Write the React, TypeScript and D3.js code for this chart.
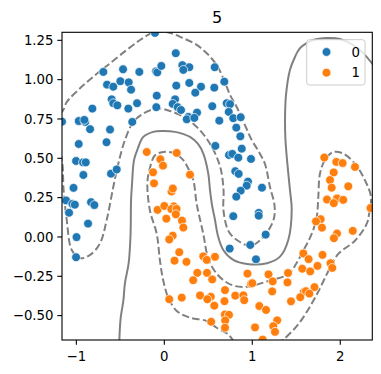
import React from 'react';
import * as d3 from 'd3';

type Pt = [number, number];

const chartTitle = '5';
const classLabels = ['0', '1'];
const classColors = ['#1f77b4', '#ff7f0e'];
const xTicks = [-1, 0, 1, 2];
const yTicks = [-0.5, -0.25, 0, 0.25, 0.5, 0.75, 1.0, 1.25];

// class 0 (upper moon)
const class0: Pt[] = [
  [-0.106, 1.297], [0.130, 1.168], [-0.693, 1.049], [-0.469, 1.066], [-0.284, 1.049], [-0.094, 1.053], [-0.080, 1.046],
  [-0.034, 1.087], [0.205, 1.092], [0.284, 1.079], [0.216, 1.062], [0.573, 1.079],
  [-0.651, 0.968], [-0.580, 0.955], [-0.500, 0.990], [-0.405, 0.983], [-0.378, 0.936], [0.136, 0.962], [0.284, 0.979],
  [0.417, 0.955], [0.352, 0.917], [0.568, 0.949], [-0.086, 0.898],
  [-0.598, 0.875], [-0.580, 0.850], [-0.534, 0.837], [-0.310, 0.850], [-0.409, 0.816], [-0.818, 0.816], [0.122, 0.875],
  [0.095, 0.846], [0.152, 0.825], [0.190, 0.807], [-0.091, 0.825], [0.372, 0.791], [0.545, 0.831],
  [0.682, 0.987], [0.709, 0.850], [0.747, 0.844], [0.732, 0.795], [0.784, 0.755], [0.868, 0.761], [0.625, 0.739],
  [0.818, 0.695], [0.864, 0.640], [0.580, 0.579], [0.880, 0.561], [0.735, 0.521], [0.773, 0.528], [0.841, 0.504], [0.985, 0.496],
  [0.807, 0.418], [0.845, 0.401], [0.951, 0.352], [0.936, 0.326], [0.868, 0.294], [1.110, 0.313], [0.818, 0.256],
  [0.784, 0.132], [1.073, 0.153], [1.073, 0.135], [1.152, 0.015], [0.977, -0.051], [0.743, -0.074], [1.042, -0.142],
  [-1.163, 0.733], [-0.973, 0.737], [-0.898, 0.731], [-0.909, 0.744], [-0.844, 0.685], [-0.657, 0.602], [-0.617, 0.683],
  [-0.973, 0.591], [-0.364, 0.731],
  [-1.003, 0.483], [-0.924, 0.474], [-0.893, 0.474], [-0.920, 0.394], [-1.032, 0.312], [-0.606, 0.402], [-0.541, 0.429],
  [0.273, 0.763], [0.255, 0.748], [0.341, 0.757],
  [-1.117, 0.232], [-1.045, 0.210], [-1.017, 0.205], [-0.833, 0.221], [-0.795, 0.203], [-1.083, 0.154], [-0.867, 0.085],
  [-0.998, -0.001], [-1.003, -0.129],
];

// class 1 (lower moon)
const class1: Pt[] = [
  [-0.200, 0.540], [0.141, 0.534], [-0.045, 0.494], [-0.015, 0.453], [-0.128, 0.411], [0.292, 0.396], [-0.117, 0.341],
  [1.818, 0.505], [1.955, 0.477], [2.027, 0.470], [2.167, 0.445], [1.925, 0.410], [1.883, 0.362], [2.091, 0.322],
  [1.902, 0.313], [1.849, 0.238], [1.963, 0.245], [2.034, 0.236], [1.926, 0.215], [2.343, 0.184], [1.777, 0.113],
  [1.724, 0.099], [1.792, 0.059], [2.142, 0.039], [1.963, 0.022], [1.928, -0.008],
  [0.576, -0.126], [1.580, -0.105], [1.640, -0.141], [1.798, -0.114], [1.741, -0.184], [1.889, -0.167], [1.909, -0.197],
  [1.568, -0.202], [1.658, -0.219], [1.406, -0.229], [1.400, -0.289], [1.707, -0.319], [1.585, -0.350], [1.610, -0.345],
  [1.649, -0.360], [1.545, -0.383], [1.440, -0.409],
  [0.443, -0.123], [0.482, -0.146], [0.375, -0.228], [0.328, -0.275], [0.485, -0.228], [0.544, -0.270], [0.945, -0.233],
  [1.184, -0.238], [0.985, -0.298], [1.000, -0.294], [1.232, -0.282], [0.690, -0.338], [0.807, -0.373], [0.898, -0.371],
  [0.908, -0.402], [1.226, -0.346], [0.406, -0.372], [0.528, -0.380], [0.568, -0.437], [0.684, -0.408], [1.080, -0.439],
  [1.156, -0.464], [0.688, -0.493], [0.735, -0.495], [0.692, -0.531], [0.690, -0.577], [0.533, -0.539], [1.283, -0.530],
  [1.239, -0.567], [1.258, -0.603], [1.031, -0.575], [1.118, -0.652], [0.489, -0.396],
  [0.082, 0.289], [0.097, 0.308], [-0.077, 0.172], [0.000, 0.197], [0.108, 0.195], [0.080, 0.177], [0.139, 0.178],
  [0.131, 0.144], [0.023, 0.116], [0.201, 0.104], [0.216, 0.060], [0.095, 0.008], [0.056, -0.016], [0.170, -0.097],
  [0.116, -0.151], [0.252, -0.158], [0.056, -0.396], [0.198, -0.386],
];

// decision function = 0
const boundary: Pt[] = [
  [-0.511, -0.680], [-0.511, -0.655], [-0.495, -0.509], [-0.466, -0.407], [-0.447, -0.292], [-0.405, -0.165], [-0.384, 0.013],
  [-0.378, 0.235], [-0.367, 0.337], [-0.344, 0.490], [-0.299, 0.566], [-0.239, 0.636], [-0.128, 0.668],
  [-0.026, 0.674], [0.122, 0.668], [0.292, 0.636], [0.383, 0.591], [0.443, 0.530], [0.500, 0.402], [0.519, 0.299],
  [0.542, 0.203], [0.576, 0.108], [0.610, 0.006], [0.670, -0.083], [0.784, -0.146], [0.940, -0.172], [1.167, -0.167],
  [1.315, -0.125], [1.409, -0.019], [1.448, 0.172], [1.428, 0.299], [1.400, 0.458], [1.377, 0.617], [1.372, 0.744],
  [1.383, 0.903], [1.428, 1.062], [1.485, 1.144], [1.542, 1.200], [1.693, 1.252], [1.849, 1.265], [1.997, 1.259],
  [2.144, 1.221], [2.258, 1.170], [2.383, 1.087],
];

// decision function = -1
const marginLow: Pt[] = [
  [-1.185, 0.782], [-1.148, 0.807], [-1.109, 0.858], [-0.958, 0.945], [-0.807, 1.019], [-0.617, 1.104], [-0.427, 1.189],
  [-0.276, 1.252], [-0.163, 1.291], [-0.086, 1.305], [0.065, 1.297], [0.216, 1.263], [0.368, 1.221], [0.482, 1.168],
  [0.595, 1.093], [0.678, 0.998], [0.747, 0.903], [0.823, 0.826], [0.906, 0.725], [0.993, 0.617], [1.076, 0.540],
  [1.144, 0.464], [1.201, 0.318], [1.252, 0.203], [1.247, 0.121], [1.178, 0.038], [1.065, -0.032], [0.974, -0.057],
  [0.860, -0.032], [0.735, 0.032], [0.673, 0.165], [0.673, 0.299], [0.644, 0.426], [0.595, 0.509], [0.519, 0.593],
  [0.406, 0.678], [0.255, 0.752], [0.065, 0.801], [-0.086, 0.816], [-0.239, 0.784], [-0.352, 0.731], [-0.447, 0.617],
  [-0.523, 0.466], [-0.580, 0.318], [-0.655, 0.108], [-0.731, -0.040], [-0.844, -0.114], [-0.958, -0.135],
  [-1.052, -0.083], [-1.109, 0.108], [-1.145, 0.299], [-1.157, 0.458], [-1.185, 0.553],
];

// decision function = +1
const marginHigh: Pt[] = [
  [0.792, -0.668], [0.727, -0.619], [0.595, -0.577], [0.482, -0.534], [0.292, -0.513], [0.141, -0.470], [0.045, -0.386],
  [-0.011, -0.280], [-0.049, -0.153], [-0.086, 0.019], [-0.163, 0.167], [-0.193, 0.337], [-0.170, 0.424], [-0.106, 0.519],
  [-0.011, 0.540], [0.122, 0.530], [0.216, 0.488], [0.273, 0.434], [0.330, 0.360], [0.368, 0.210], [0.443, 0.019],
  [0.497, -0.134], [0.565, -0.210], [0.667, -0.273], [0.803, -0.312], [0.955, -0.315], [1.182, -0.280], [1.409, -0.237],
  [1.497, -0.172], [1.580, -0.087], [1.675, 0.019], [1.732, 0.125], [1.750, 0.252], [1.769, 0.402], [1.826, 0.488],
  [1.920, 0.540], [2.034, 0.530], [2.167, 0.466], [2.281, 0.360], [2.349, 0.254], [2.326, 0.140], [2.300, 0.083],
  [2.167, -0.024], [1.977, -0.108], [1.883, -0.197], [1.713, -0.386], [1.523, -0.555], [1.326, -0.668],
];

export default function App() {
  const width = 381;
  const height = 374;
  const left = 62;
  const right = 372.3;
  const top = 32.3;
  const bottom = 340;

  const x = d3.scaleLinear().domain([-1.163, 2.364]).range([left, right]);
  const y = d3.scaleLinear().domain([-0.655, 1.301]).range([bottom, top]);

  const line = d3
    .line<Pt>()
    .x(d => x(d[0]))
    .y(d => y(d[1]))
    .curve(d3.curveCatmullRom.alpha(0.5));

  const minus = (s: string) => s.replace('-', '\u2212');
  const font = 'DejaVu Sans, sans-serif';
  const gray = '#808080';

  const contours = [
    { data: marginLow, dash: '7.4,3.2' },
    { data: boundary, dash: null },
    { data: marginHigh, dash: '7.4,3.2' },
  ];

  const series = [class0, class1];

  return (
    <svg
      width={width}
      height={height}
      style={{ position: 'absolute', left: 0, top: 0, background: '#fff' }}
      fontFamily={font}
    >
      <defs>
        <clipPath id="plot-clip">
          <rect x={left} y={top} width={right - left} height={bottom - top} />
        </clipPath>
      </defs>

      <g clipPath="url(#plot-clip)">
        {contours.map((c, i) => (
          <path
            key={i}
            d={line(c.data) || ''}
            fill="none"
            stroke={gray}
            strokeWidth={2}
            strokeDasharray={c.dash || undefined}
          />
        ))}
        {series.map((pts, si) =>
          pts.map((p, i) => (
            <circle
              key={`${si}-${i}`}
              cx={x(p[0])}
              cy={y(p[1])}
              r={4.4}
              fill={classColors[si]}
              stroke="#fff"
              strokeWidth={0.7}
            />
          ))
        )}
      </g>

      {/* axes frame */}
      <rect x={left} y={top} width={right - left} height={bottom - top} fill="none" stroke="#000" strokeWidth={1.1} />

      {xTicks.map(t => (
        <g key={`x${t}`}>
          <line x1={x(t)} x2={x(t)} y1={bottom} y2={bottom + 4.7} stroke="#000" strokeWidth={1.1} />
          <text x={x(t)} y={360.7} textAnchor="middle" fontSize={13.3} fill="#000">
            {minus(String(t))}
          </text>
        </g>
      ))}

      {yTicks.map(t => (
        <g key={`y${t}`}>
          <line x1={left - 4.7} x2={left} y1={y(t)} y2={y(t)} stroke="#000" strokeWidth={1.1} />
          <text x={left - 8.5} y={y(t)} dy="0.36em" textAnchor="end" fontSize={13.3} fill="#000">
            {minus(d3.format('.2f')(t))}
          </text>
        </g>
      ))}

      <text x={(left + right) / 2} y={23} textAnchor="middle" fontSize={16} fill="#000">
        {chartTitle}
      </text>

      {/* legend */}
      <g>
        <rect x={306.7} y={39.7} width={58.3} height={45.3} rx={2.7} fill="#fff" fillOpacity={0.8} stroke="#cccccc" strokeWidth={1} />
        {classLabels.map((lab, i) => (
          <g key={lab}>
            <circle cx={326.5} cy={52 + i * 20.7} r={4.4} fill={classColors[i]} stroke="#fff" strokeWidth={0.7} />
            <text x={351.5} y={52 + i * 20.7} dy="0.36em" fontSize={13.3} fill="#000">
              {lab}
            </text>
          </g>
        ))}
      </g>
    </svg>
  );
}
